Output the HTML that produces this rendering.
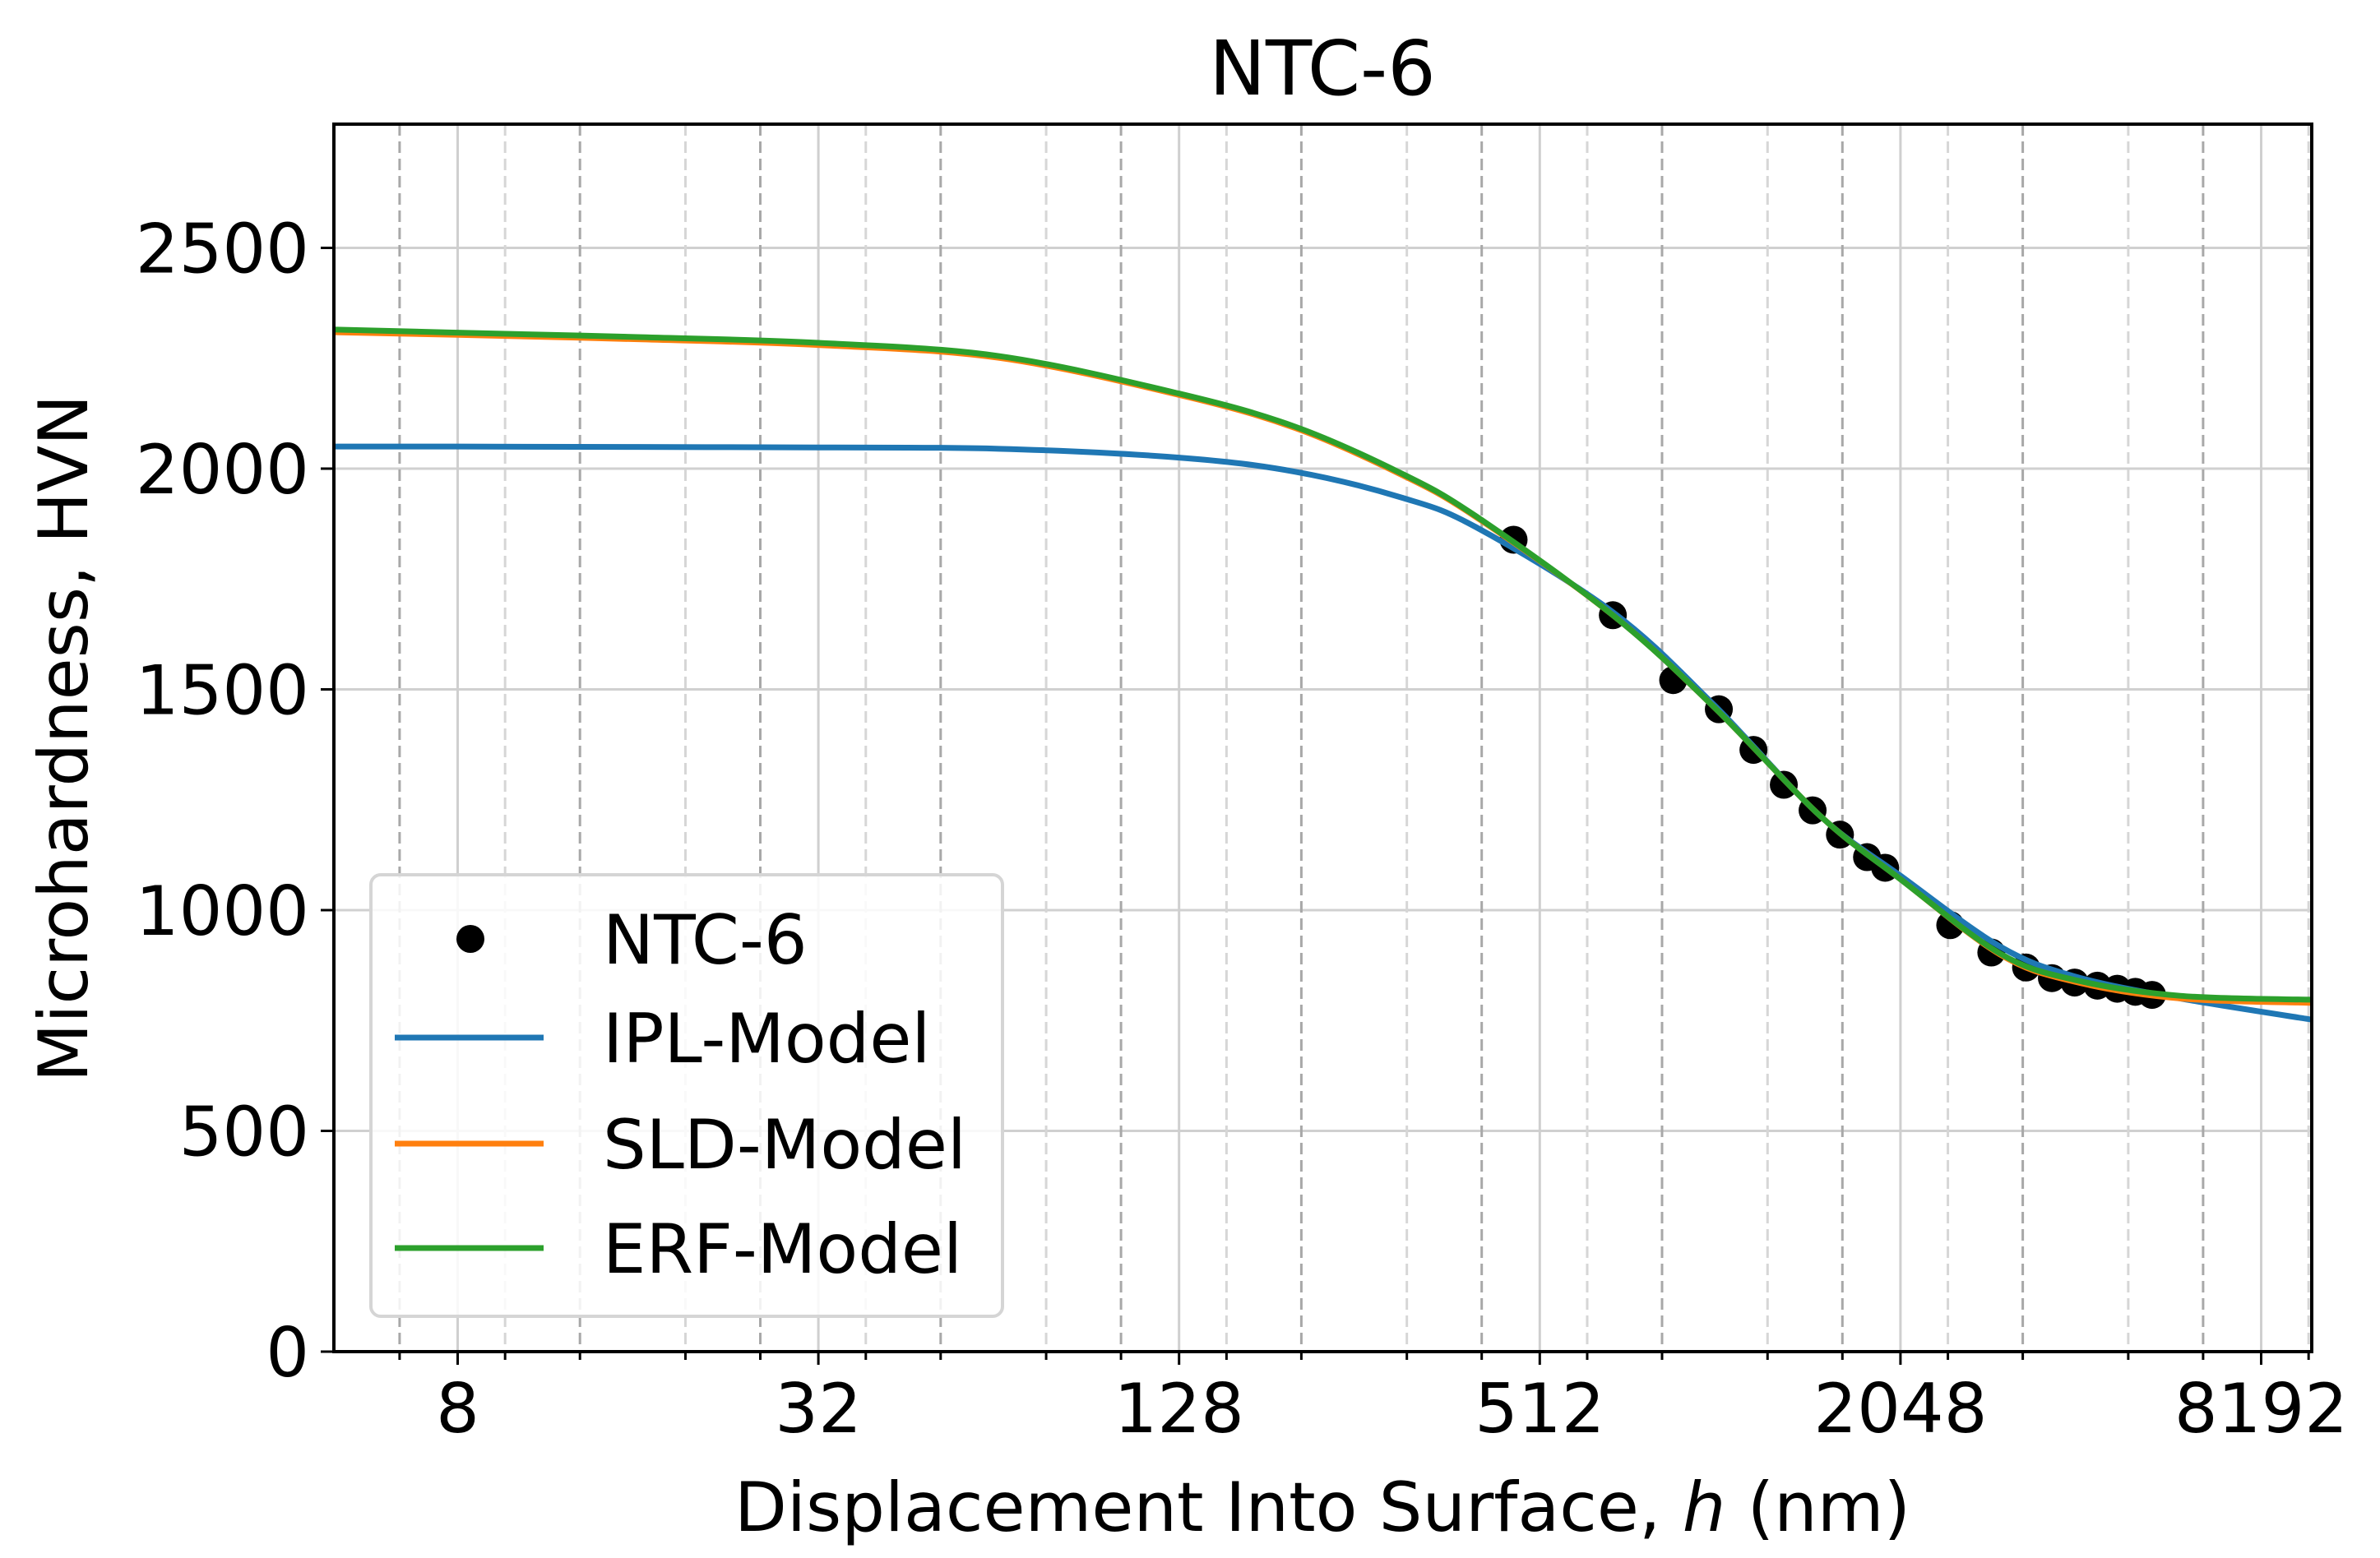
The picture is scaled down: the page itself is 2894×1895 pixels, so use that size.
<!DOCTYPE html>
<html><head><meta charset="utf-8"><style>
html,body{margin:0;padding:0;background:#fff;}
svg{display:block;font-family:"DejaVu Sans","Liberation Sans",sans-serif;}
</style></head><body>
<svg id="chart" width="2894" height="1895" viewBox="0 0 2894 1895" xmlns="http://www.w3.org/2000/svg">
<g id="grid"></g>
<g id="series"></g>
<g id="axes"></g>
<g id="legend"></g>
<text x="1608" y="115" font-size="92" text-anchor="middle">NTC-6</text>
<text x="1608" y="1862" font-size="83" text-anchor="middle">Displacement Into Surface, <tspan font-style="italic">h</tspan> (nm)</text>
<text transform="translate(106,898) rotate(-90)" font-size="83" text-anchor="middle">Microhardness, HVN</text>
</svg>
<script>
const xTickValues=[8,32,128,512,2048,8192];
const xTickLabels=["8","32","128","512","2048","8192"];
const yTickValues=[0,500,1000,1500,2000,2500];
const yTickLabels=["0","500","1000","1500","2000","2500"];
const dataH=[463,678,855,1019,1164,1308,1461,1623,1801,1931,2480,2904,3319,3665,4000,4366,4712,5051,5386];
const dataHV=[1839,1668,1521,1455,1363,1284,1226,1171,1120,1096,966,904,870,846,836,829,822,815,808];
const curveH=[5,8,16,32,64,128,200,300,400,678,1000,1500,2048,3000,4000,6000,10000];
const iplHV=[2050,2050,2049,2048,2045,2025,1993,1935,1868,1675,1465,1215,1078,918,850,800,752];
const sldHV=[2309,2303,2293,2280,2251,2167,2092,1987,1891,1668,1460,1215,1070,900,838,800,790];
const erfHV=[2315,2308,2298,2285,2255,2170,2095,1990,1893,1668,1460,1215,1070,902,842,806,797];

const L=406,R=2811,T=151,B=1644;
const X=h=>556.5+219.3*Math.log2(h/8);
const Y=v=>B-(v/500)*268.5;
const NS="http://www.w3.org/2000/svg";
function mk(tag,attrs,parent){const e=document.createElementNS(NS,tag);for(const k in attrs)e.setAttribute(k,attrs[k]);parent.appendChild(e);return e;}
const grid=document.getElementById('grid'),series=document.getElementById('series'),axes=document.getElementById('axes'),legend=document.getElementById('legend');

yTickValues.forEach(v=>{if(v===0)return;const l=mk('line',{x1:L,x2:R,y1:Y(v),y2:Y(v),stroke:'#d0d0d0','stroke-width':3},grid);

});
const majors=[2,8,32,128,512,2048,8192,32768];
majors.forEach(m=>{
  [[1,'solid'],[1.2,'light'],[1.6,'dark'],[2.4,'light'],[3.2,'dark']].forEach(([f,kind])=>{
    const h=m*f,x=X(h);if(x<L+2||x>R-1)return;
    const a={x1:x,x2:x,y1:T,y2:B};
    if(kind==='solid'){a.stroke='#cfcfcf';a['stroke-width']=3;}
    else if(kind==='dark'){a.stroke='#a8a8a8';a['stroke-width']=3;a['stroke-dasharray']='14,7';}
    else{a.stroke='#d6d6d6';a['stroke-width']=3;a['stroke-dasharray']='14,7';}
    const l=mk('line',a,grid);
    
    
    const t=mk('line',{x1:x,x2:x,y1:B,y2:B+(kind==='solid'?16:10),stroke:'#000','stroke-width':3},axes);
    
    
  });
});
function smooth(pts){let d='M'+pts[0][0]+','+pts[0][1];
  for(let i=0;i<pts.length-1;i++){const p0=pts[Math.max(0,i-1)],p1=pts[i],p2=pts[i+1],p3=pts[Math.min(pts.length-1,i+2)];
    const c1=[p1[0]+(p2[0]-p0[0])/6,p1[1]+(p2[1]-p0[1])/6],c2=[p2[0]-(p3[0]-p1[0])/6,p2[1]-(p3[1]-p1[1])/6];
    d+=' C'+c1+' '+c2+' '+p2;}return d;}
function curve(vals,color,name){const pts=curveH.map((h,i)=>[Math.max(L,Math.min(R,X(h))),Y(vals[i])]);
  const p=mk('path',{d:smooth(pts),fill:'none',stroke:color,'stroke-width':7},series);
  
  }
dataH.forEach((h,i)=>{const c=mk('circle',{cx:X(h),cy:Y(dataHV[i]),r:17,fill:'#000'},series);
  
  });
curve(iplHV,'#1f77b4','ipl-model-line');
curve(sldHV,'#ff7f0e','sld-model-line');
curve(erfHV,'#2ca02c','erf-model-line');

const fr=mk('rect',{x:L,y:T,width:R-L,height:B-T,fill:'none',stroke:'#000','stroke-width':4},axes);


xTickValues.forEach((v,i)=>{const t=mk('text',{x:X(v),y:B+98,'font-size':83,'text-anchor':'middle'},axes);t.textContent=xTickLabels[i];
  
  });
yTickValues.forEach((v,i)=>{const m=mk('line',{x1:L-16,x2:L,y1:Y(v),y2:Y(v),stroke:'#000','stroke-width':3},axes);
  
  
  const t=mk('text',{x:L-30,y:Y(v)+30,'font-size':83,'text-anchor':'end'},axes);t.textContent=yTickLabels[i];
  
  });

const lb=mk('rect',{x:451,y:1064,width:768,height:537,rx:12,fill:'rgba(255,255,255,0.85)',stroke:'#d5d5d5','stroke-width':4},legend);


const entries=[['NTC-6',null,1142],['IPL-Model','#1f77b4',1262],['SLD-Model','#ff7f0e',1391],['ERF-Model','#2ca02c',1518]];
entries.forEach(([lab,col,y])=>{
  const g=mk('g',{},legend);
  
  
  if(col)mk('line',{x1:480,x2:661,y1:y,y2:y,stroke:col,'stroke-width':7},g);
  else mk('circle',{cx:572,cy:y,r:17,fill:'#000'},g);
  const t=mk('text',{x:733,y:y+30,'font-size':83},g);t.textContent=lab;
});
</script>
</body></html>
